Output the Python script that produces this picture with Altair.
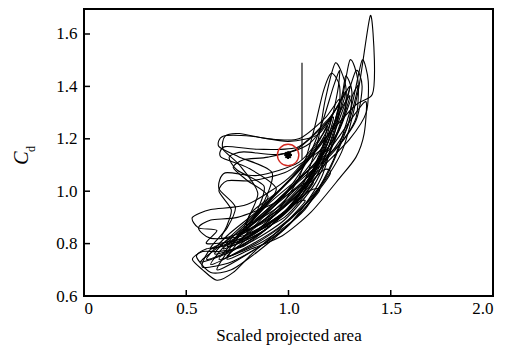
import altair as alt
import pandas as pd

# ---- data ----
loop_01 = [(0.62,0.72),(0.78,0.78),(0.95,0.86),(1.12,0.98),(1.26,1.15),(1.34,1.38),(1.40,1.67),(1.42,1.50),(1.41,1.37),(1.33,1.33),(1.20,1.22),(1.05,1.08),(0.88,0.94),(0.72,0.82)]
loop_02 = [(0.57,0.73),(0.72,0.77),(0.90,0.86),(1.05,0.99),(1.14,1.18),(1.18,1.35),(1.23,1.49),(1.28,1.40),(1.27,1.28),(1.18,1.15),(1.02,1.02),(0.85,0.90),(0.68,0.80)]
loop_03 = [(0.65,0.70),(0.80,0.76),(1.00,0.87),(1.16,1.05),(1.25,1.30),(1.30,1.50),(1.34,1.42),(1.33,1.28),(1.25,1.18),(1.10,1.08),(0.90,0.95),(0.75,0.82)]
loop_04 = [(0.70,0.75),(0.88,0.81),(1.08,0.93),(1.22,1.12),(1.31,1.33),(1.36,1.50),(1.39,1.42),(1.38,1.30),(1.30,1.20),(1.15,1.08),(0.95,0.92),(0.80,0.82)]
loop_05 = [(0.72,0.80),(0.90,0.87),(1.08,0.99),(1.20,1.15),(1.27,1.30),(1.30,1.40),(1.26,1.35),(1.15,1.22),(1.00,1.19),(0.82,1.21),(0.68,1.21),(0.66,1.17),(0.76,1.13),(0.92,1.07),(0.86,0.93)]
loop_06 = [(0.75,0.83),(0.93,0.91),(1.10,1.03),(1.20,1.20),(1.25,1.33),(1.20,1.28),(1.05,1.17),(0.85,1.16),(0.69,1.17),(0.67,1.13),(0.80,1.09),(0.94,1.01),(0.85,0.91)]
loop_07 = [(0.62,0.78),(0.82,0.84),(1.02,0.95),(1.15,1.12),(1.21,1.28),(1.17,1.22),(1.05,1.11),(0.85,1.06),(0.69,1.07),(0.66,1.01),(0.74,0.94),(0.70,0.86)]
loop_08 = [(0.60,0.80),(0.78,0.82),(0.98,0.92),(1.13,1.08),(1.19,1.25),(1.14,1.18),(1.00,1.05),(0.80,0.95),(0.62,0.93),(0.53,0.90),(0.56,0.86),(0.65,0.85)]
loop_09 = [(0.53,0.74),(0.58,0.70),(0.65,0.66),(0.73,0.69),(0.82,0.76),(0.95,0.85),(1.08,0.96),(1.03,0.95),(0.90,0.86),(0.78,0.79),(0.66,0.77),(0.58,0.77)]
loop_10 = [(0.55,0.75),(0.62,0.69),(0.72,0.70),(0.85,0.77),(1.00,0.87),(1.15,1.00),(1.10,1.00),(0.96,0.91),(0.82,0.83),(0.68,0.79),(0.60,0.78)]
loop_11 = [(0.70,0.74),(0.82,0.78),(0.97,0.83),(1.11,0.92),(1.25,1.05),(1.33,1.13),(1.37,1.22),(1.38,1.34),(1.33,1.30),(1.22,1.18),(1.05,1.02),(0.88,0.89),(0.76,0.81)]
loop_12 = [(0.80,0.86),(0.95,0.96),(1.08,1.10),(1.16,1.25),(1.22,1.40),(1.25,1.46),(1.24,1.38),(1.20,1.25),(1.10,1.12),(0.95,1.00),(0.82,0.92)]
loop_13 = [(0.78,0.85),(0.95,0.93),(1.10,1.05),(1.20,1.20),(1.25,1.35),(1.18,1.28),(1.05,1.20),(0.90,1.20),(0.76,1.22),(0.69,1.21),(0.68,1.16),(0.76,1.10),(0.85,0.99)]
loop_14 = [(0.66,0.74),(0.84,0.80),(1.02,0.90),(1.18,1.05),(1.29,1.25),(1.34,1.40),(1.31,1.36),(1.24,1.22),(1.12,1.10),(0.95,0.97),(0.80,0.86)]
loop_15 = [(0.58,0.71),(0.72,0.73),(0.88,0.80),(1.04,0.90),(1.20,1.06),(1.17,1.08),(1.05,0.99),(0.90,0.90),(0.74,0.82),(0.62,0.78)]
loop_16 = [(0.68,0.82),(0.88,0.88),(1.06,1.00),(1.16,1.15),(1.11,1.13),(0.98,1.07),(0.82,1.04),(0.70,1.04),(0.66,1.00),(0.72,0.93),(0.70,0.87)]
loop_17 = [(0.80,0.84),(0.98,0.92),(1.14,1.06),(1.23,1.25),(1.28,1.38),(1.22,1.30),(1.10,1.18),(0.95,1.14),(0.78,1.15),(0.71,1.13),(0.75,1.08),(0.88,1.02),(0.85,0.93)]
loop_18 = [(0.68,0.78),(0.88,0.85),(1.06,0.98),(1.19,1.18),(1.26,1.36),(1.28,1.44),(1.31,1.38),(1.29,1.25),(1.20,1.14),(1.04,1.03),(0.86,0.90)]
loop_19 = [(0.56,0.86),(0.62,0.82),(0.78,0.83),(0.98,0.90),(1.12,1.03),(1.06,1.02),(0.92,0.95),(0.75,0.90),(0.62,0.89)]
loop_20 = [(0.75,0.80),(0.92,0.90),(1.05,1.05),(1.12,1.22),(1.17,1.38),(1.21,1.45),(1.25,1.40),(1.24,1.28),(1.15,1.15),(1.00,1.00),(0.85,0.88)]
loop_21 = [(0.64,0.76),(0.80,0.80),(0.98,0.89),(1.13,1.03),(1.24,1.22),(1.30,1.36),(1.27,1.33),(1.18,1.20),(1.03,1.06),(0.86,0.93),(0.72,0.83)]
loop_22 = [(0.70,0.79),(0.86,0.84),(1.03,0.95),(1.17,1.12),(1.27,1.32),(1.33,1.46),(1.36,1.40),(1.33,1.27),(1.22,1.15),(1.06,1.03),(0.88,0.91)]
loop_23 = [(0.60,0.74),(0.76,0.79),(0.93,0.88),(1.08,1.02),(1.18,1.20),(1.14,1.17),(1.00,1.04),(0.84,0.92),(0.70,0.83)]
loop_24 = [(0.82,0.88),(1.00,0.97),(1.15,1.12),(1.22,1.28),(1.16,1.24),(1.04,1.16),(0.90,1.13),(0.78,1.12),(0.73,1.09),(0.80,1.04),(0.90,0.98)]

loops = [loop_01, loop_02, loop_03, loop_04, loop_05, loop_06, loop_07, loop_08, loop_09, loop_10,
         loop_11, loop_12, loop_13, loop_14, loop_15, loop_16, loop_17, loop_18, loop_19, loop_20,
         loop_21, loop_22, loop_23, loop_24]

spike_x = [1.066]
spike_y0 = [1.12]
spike_y1 = [1.49]

marker_x = [0.998]
marker_y = [1.138]

x_ticks = [0, 0.5, 1.0, 1.5, 2.0]
y_ticks = [0.6, 0.8, 1.0, 1.2, 1.4, 1.6]

x_title = "Scaled projected area"
y_title_main = "C"
y_title_sub = "d"

# ---- build tables ----
rows = []
for i, lp in enumerate(loops):
    for j, (xv, yv) in enumerate(lp):
        rows.append({"loop": i, "k": j, "x": xv, "y": yv})
df = pd.DataFrame(rows)

FONT = "Liberation Serif, Times New Roman, DejaVu Serif, serif"
W, H = 409, 287
xs = alt.Scale(domain=[0, 2.0], nice=False, zero=False)
ys = alt.Scale(domain=[0.6, 1.6954], nice=False, zero=False)

base = alt.Chart(df)

lines = base.mark_line(interpolate="cardinal-closed", tension=0.25, color="black", strokeWidth=1.1).encode(
    x=alt.X("x:Q", scale=xs, axis=alt.Axis(
        values=x_ticks, ticks=False, domain=False, grid=False,
        labelExpr="datum.value == 0 ? '0' : format(datum.value, '.1f')",
        labelFont=FONT, labelFontSize=17, labelColor="black", labelPadding=4,
        title=x_title, titleFont=FONT, titleFontSize=17, titleFontWeight="normal",
        titleColor="black", titlePadding=11)),
    y=alt.Y("y:Q", scale=ys, axis=alt.Axis(
        values=y_ticks, ticks=False, domain=False, grid=False, format=".1f",
        labelFont=FONT, labelFontSize=17, labelColor="black", labelPadding=7,
        title=None)),
    detail="loop:N",
    order="k:Q",
)

spike = alt.Chart(pd.DataFrame({"x": spike_x, "y": spike_y0, "y2": spike_y1})).mark_rule(
    color="black", strokeWidth=1.1).encode(
    x=alt.X("x:Q", scale=xs), y=alt.Y("y:Q", scale=ys), y2="y2:Q")

circ = alt.Chart(pd.DataFrame({"x": marker_x, "y": marker_y})).mark_point(
    shape="circle", size=460, filled=False, color="#d42a22", strokeWidth=1.4, opacity=1).encode(
    x=alt.X("x:Q", scale=xs), y=alt.Y("y:Q", scale=ys))

star = alt.Chart(pd.DataFrame({"x": marker_x, "y": marker_y})).mark_point(
    shape="M-1,0L1,0M0,-1L0,1M-0.7,-0.7L0.7,0.7M-0.7,0.7L0.7,-0.7",
    size=60, filled=False, color="black", strokeWidth=2, opacity=1).encode(
    x=alt.X("x:Q", scale=xs), y=alt.Y("y:Q", scale=ys))

xt = alt.Chart(pd.DataFrame({"v": x_ticks[1:-1]})).mark_rule(color="black", strokeWidth=1.5).encode(
    x=alt.X("v:Q", scale=xs), y=alt.value(H), y2=alt.value(H - 6))

yt = alt.Chart(pd.DataFrame({"v": y_ticks})).mark_rule(color="black", strokeWidth=1.5).encode(
    y=alt.Y("v:Q", scale=ys), x=alt.value(0), x2=alt.value(6))

ytitle_c = alt.Chart(pd.DataFrame({"t": [y_title_main]})).mark_text(
    font=FONT, fontSize=20, fontStyle="italic", angle=270, align="center", baseline="middle",
    color="black").encode(text="t:N", x=alt.value(-62), y=alt.value(149))

ytitle_d = alt.Chart(pd.DataFrame({"t": [y_title_sub]})).mark_text(
    font=FONT, fontSize=12, angle=270, align="center", baseline="middle",
    color="black").encode(text="t:N", x=alt.value(-53), y=alt.value(140))

chart = alt.layer(lines, spike, circ, star, xt, yt, ytitle_c, ytitle_d).properties(
    width=W, height=H,
    autosize=alt.AutoSizeParams(type="none"),
    padding={"left": 76, "top": 1, "right": 4, "bottom": 51},
).configure_view(stroke="black", strokeWidth=2)

chart.save("out.html", embed_options={"renderer": "svg", "actions": False})
